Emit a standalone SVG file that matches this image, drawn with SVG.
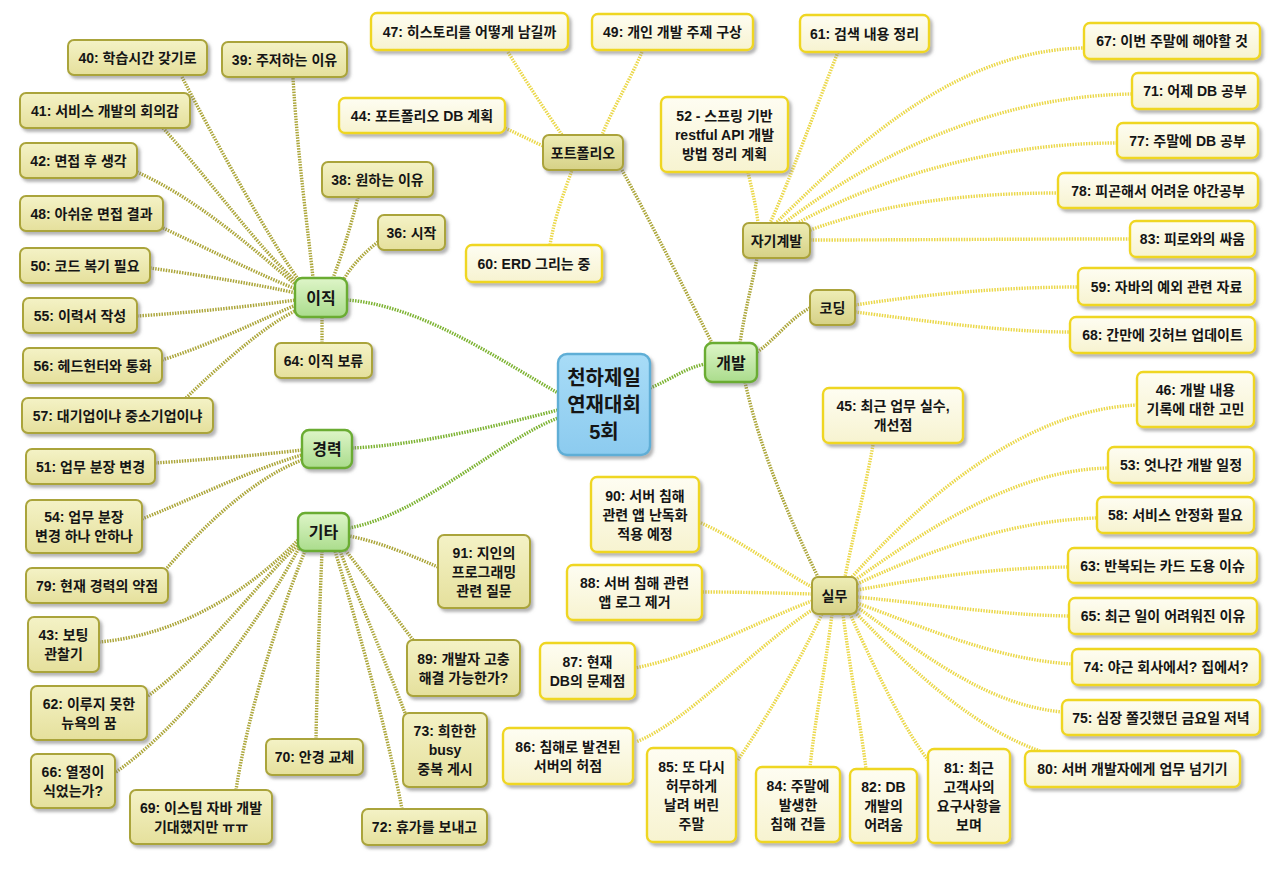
<svg xmlns="http://www.w3.org/2000/svg" width="1280" height="869" viewBox="0 0 1280 869">
<defs>
<linearGradient id="gLO" x1="0" y1="0" x2="0" y2="1"><stop offset="0" stop-color="#f4f2c6"/><stop offset="1" stop-color="#e5e09c"/></linearGradient>
<linearGradient id="gLY" x1="0" y1="0" x2="0" y2="1"><stop offset="0" stop-color="#fefdf2"/><stop offset="1" stop-color="#f7f3d0"/></linearGradient>
<linearGradient id="gSub" x1="0" y1="0" x2="0" y2="1"><stop offset="0" stop-color="#eeedb6"/><stop offset="1" stop-color="#d6d186"/></linearGradient>
<linearGradient id="gGr" x1="0" y1="0" x2="0" y2="1"><stop offset="0" stop-color="#def5c8"/><stop offset="1" stop-color="#aadc8c"/></linearGradient>
<linearGradient id="gC" x1="0" y1="0" x2="0" y2="1"><stop offset="0" stop-color="#a8dcf7"/><stop offset="1" stop-color="#8ccbef"/></linearGradient>
<filter id="sh" x="-20%" y="-20%" width="140%" height="150%"><feDropShadow dx="2.5" dy="3" stdDeviation="1.8" flood-color="#777" flood-opacity="0.55"/></filter>
</defs>
<style>
#connectors path{fill:none;stroke-width:3.4;stroke-dasharray:1.5 1.2}
.cg{stroke:#7db332}.co{stroke:#aca63a}.cy{stroke:#ebd84a}
rect{stroke-width:2;filter:url(#sh)}
.lo rect{fill:url(#gLO);stroke:#aaa43a}
.ly rect{fill:url(#gLY);stroke:#efd622;stroke-width:2.4}
.sb rect{fill:url(#gSub);stroke:#aba33a}
.gr rect{fill:url(#gGr);stroke:#6aac32;stroke-width:2.4}
.ct rect{fill:url(#gC);stroke:#5eaed6;stroke-width:2.4}
text{font-family:"Liberation Sans","Noto Sans CJK KR",sans-serif;font-weight:bold;font-size:14px;text-anchor:middle;fill:#151515}
.gr text{font-size:16px}
.ct text{font-size:20px}
</style>
<rect x="0" y="0" width="1280" height="869" fill="#ffffff" style="filter:none;stroke:none"/>
<g id="connectors">
<path class="cg" d="M347,300 C420,305 500,360 558,393"/>
<path class="cg" d="M352,448 C420,445 500,425 558,410"/>
<path class="cg" d="M349,528 C420,515 500,440 558,418"/>
<path class="cg" d="M650,388 C670,380 685,368 705,364"/>
<path class="co" d="M622,170 C655,230 690,300 712,343"/>
<path class="co" d="M740,343 C745,310 752,285 757,258"/>
<path class="co" d="M757,352 C775,340 790,318 810,308"/>
<path class="co" d="M745,382 C760,450 790,520 818,577"/>
<path class="co" d="M182,77 C220,150 270,240 298,279"/>
<path class="co" d="M293,78 C298,160 308,230 313,278"/>
<path class="co" d="M163,128 C210,180 260,250 297,282"/>
<path class="co" d="M137,172 C200,200 260,255 296,285"/>
<path class="co" d="M163,228 C210,250 260,275 296,289"/>
<path class="co" d="M150,268 C200,275 260,285 296,293"/>
<path class="co" d="M137,316 C200,312 260,305 296,300"/>
<path class="co" d="M162,360 C210,345 260,320 296,305"/>
<path class="co" d="M186,398 C220,365 265,325 297,310"/>
<path class="co" d="M358,197 C350,230 340,260 333,278"/>
<path class="co" d="M378,242 C365,252 352,265 344,279"/>
<path class="co" d="M322,343 L322,317"/>
<path class="co" d="M155,463 C200,460 260,455 302,450"/>
<path class="co" d="M142,519 C190,500 250,470 302,455"/>
<path class="co" d="M167,568 C200,530 250,480 302,460"/>
<path class="co" d="M99,642 C180,635 250,590 298,540"/>
<path class="co" d="M148,696 C210,650 260,580 298,545"/>
<path class="co" d="M116,772 C190,720 260,620 299,548"/>
<path class="co" d="M236,790 C250,700 285,600 305,551"/>
<path class="co" d="M316,739 C317,680 320,600 322,551"/>
<path class="co" d="M402,809 C385,720 350,600 335,551"/>
<path class="co" d="M405,713 C385,660 355,590 340,551"/>
<path class="co" d="M413,640 C390,610 365,575 346,551"/>
<path class="co" d="M438,567 C410,555 380,542 349,536"/>
<path class="cy" d="M508,52 C525,80 545,110 562,135"/>
<path class="cy" d="M642,52 C630,80 612,110 602,135"/>
<path class="cy" d="M505,128 C520,135 530,140 543,146"/>
<path class="cy" d="M550,245 C555,215 565,190 572,170"/>
<path class="cy" d="M748,172 C752,190 756,205 758,223"/>
<path class="cy" d="M838,52 C815,110 790,180 770,223"/>
<path class="cy" d="M775,224 C860,140 960,50 1084,48"/>
<path class="cy" d="M780,226 C880,150 1000,96 1132,94"/>
<path class="cy" d="M785,230 C880,175 1000,143 1117,143"/>
<path class="cy" d="M795,236 C870,205 960,193 1058,193"/>
<path class="cy" d="M810,240 C900,240 1000,239 1130,239"/>
<path class="cy" d="M855,305 C920,295 1000,287 1078,287"/>
<path class="cy" d="M855,312 C920,320 1000,332 1070,332"/>
<path class="cy" d="M873,445 C865,490 852,540 845,577"/>
<path class="cy" d="M852,577 C930,490 1030,410 1137,405"/>
<path class="cy" d="M855,580 C940,520 1020,470 1108,468"/>
<path class="cy" d="M857,584 C940,545 1020,520 1097,518"/>
<path class="cy" d="M857,590 C940,575 1000,568 1068,567"/>
<path class="cy" d="M857,597 C940,605 1000,615 1069,616"/>
<path class="cy" d="M857,603 C930,630 1000,660 1072,664"/>
<path class="cy" d="M857,607 C930,660 990,705 1062,712"/>
<path class="cy" d="M855,612 C920,680 980,730 1040,751"/>
<path class="cy" d="M850,614 C880,680 905,730 928,760"/>
<path class="cy" d="M843,614 C850,670 860,720 866,769"/>
<path class="cy" d="M832,614 C825,670 815,720 810,767"/>
<path class="cy" d="M822,614 C795,670 765,720 738,760"/>
<path class="cy" d="M815,608 C750,650 690,720 636,742"/>
<path class="cy" d="M812,601 C760,620 700,655 635,668"/>
<path class="cy" d="M812,594 C780,593 740,592 702,592"/>
<path class="cy" d="M812,587 C780,570 740,540 699,522"/>
</g>
<g id="center" class="ct"><rect x="558" y="354" width="92" height="101" rx="9"/><text x="604" y="385">천하제일</text><text x="604" y="412">연재대회</text><text x="604" y="439">5회</text></g>
<g id="b-ijik" class="gr"><rect x="295" y="278" width="52" height="39" rx="7"/><text x="321" y="303.5">이직</text></g>
<g id="b-career" class="gr"><rect x="302" y="430" width="50" height="38" rx="7"/><text x="327" y="455">경력</text></g>
<g id="b-etc" class="gr"><rect x="298" y="513" width="51" height="38" rx="7"/><text x="323.5" y="538">기타</text></g>
<g id="b-dev" class="gr"><rect x="705" y="343" width="52" height="39" rx="7"/><text x="731" y="368.5">개발</text></g>
<g id="s-portfolio" class="sb"><rect x="543" y="135" width="80" height="35" rx="6"/><text x="583" y="157.5">포트폴리오</text></g>
<g id="s-self" class="sb"><rect x="743" y="223" width="67" height="35" rx="6"/><text x="776.5" y="245.5">자기계발</text></g>
<g id="s-coding" class="sb"><rect x="810" y="290" width="45" height="35" rx="6"/><text x="832.5" y="312.5">코딩</text></g>
<g id="s-work" class="sb"><rect x="812" y="577" width="45" height="37" rx="6"/><text x="834.5" y="600.5">실무</text></g>
<g id="n40" class="lo"><rect x="68" y="40" width="139" height="35" rx="6"/><text x="137.5" y="62.5">40: 학습시간 갖기로</text></g>
<g id="n39" class="lo"><rect x="222" y="42" width="125" height="35" rx="6"/><text x="284.5" y="64.5">39: 주저하는 이유</text></g>
<g id="n41" class="lo"><rect x="20" y="93" width="170" height="35" rx="6"/><text x="105" y="115.5">41: 서비스 개발의 회의감</text></g>
<g id="n42" class="lo"><rect x="20" y="143" width="117" height="35" rx="6"/><text x="78.5" y="165.5">42: 면접 후 생각</text></g>
<g id="n48" class="lo"><rect x="20" y="196" width="143" height="35" rx="6"/><text x="91.5" y="218.5">48: 아쉬운 면접 결과</text></g>
<g id="n50" class="lo"><rect x="20" y="248" width="130" height="35" rx="6"/><text x="85" y="270.5">50: 코드 복기 필요</text></g>
<g id="n55" class="lo"><rect x="23" y="298" width="114" height="35" rx="6"/><text x="80" y="320.5">55: 이력서 작성</text></g>
<g id="n56" class="lo"><rect x="23" y="348" width="139" height="35" rx="6"/><text x="92.5" y="370.5">56: 헤드헌터와 통화</text></g>
<g id="n57" class="lo"><rect x="22" y="398" width="191" height="35" rx="6"/><text x="117.5" y="420.5">57: 대기업이냐 중소기업이냐</text></g>
<g id="n38" class="lo"><rect x="322" y="162" width="111" height="35" rx="6"/><text x="377.5" y="184.5">38: 원하는 이유</text></g>
<g id="n36" class="lo"><rect x="378" y="215" width="67" height="35" rx="6"/><text x="411.5" y="237.5">36: 시작</text></g>
<g id="n64" class="lo"><rect x="275" y="343" width="97" height="35" rx="6"/><text x="323.5" y="365.5">64: 이직 보류</text></g>
<g id="n51" class="lo"><rect x="26" y="449" width="129" height="35" rx="6"/><text x="90.5" y="471.5">51: 업무 분장 변경</text></g>
<g id="n54" class="lo"><rect x="26" y="500" width="116" height="53" rx="6"/><text x="84" y="522">54: 업무 분장</text><text x="84" y="541">변경 하나 안하나</text></g>
<g id="n79" class="lo"><rect x="26" y="568" width="142" height="35" rx="6"/><text x="97" y="590.5">79: 현재 경력의 약점</text></g>
<g id="n43" class="lo"><rect x="28" y="617" width="71" height="55" rx="6"/><text x="63.5" y="640">43: 보팅</text><text x="63.5" y="659">관찰기</text></g>
<g id="n62" class="lo"><rect x="31" y="686" width="116" height="54" rx="6"/><text x="89" y="708.5">62: 이루지 못한</text><text x="89" y="727.5">뉴욕의 꿈</text></g>
<g id="n66" class="lo"><rect x="31" y="754" width="84" height="54" rx="6"/><text x="73" y="776.5">66: 열정이</text><text x="73" y="795.5">식었는가?</text></g>
<g id="n69" class="lo"><rect x="130" y="790" width="142" height="54" rx="6"/><text x="201" y="812.5">69: 이스팀 자바 개발</text><text x="201" y="831.5">기대했지만 ㅠㅠ</text></g>
<g id="n70" class="lo"><rect x="266" y="739" width="97" height="36" rx="6"/><text x="314.5" y="762">70: 안경 교체</text></g>
<g id="n72" class="lo"><rect x="362" y="809" width="125" height="36" rx="6"/><text x="424.5" y="832">72: 휴가를 보내고</text></g>
<g id="n73" class="lo"><rect x="403" y="713" width="84" height="74" rx="6"/><text x="445" y="736">73: 희한한</text><text x="445" y="755">busy</text><text x="445" y="774">중복 게시</text></g>
<g id="n89" class="lo"><rect x="407" y="640" width="113" height="56" rx="6"/><text x="463.5" y="663.5">89: 개발자 고충</text><text x="463.5" y="682.5">해결 가능한가?</text></g>
<g id="n91" class="lo"><rect x="438" y="535" width="92" height="73" rx="6"/><text x="484" y="557.5">91: 지인의</text><text x="484" y="576.5">프로그래밍</text><text x="484" y="595.5">관련 질문</text></g>
<g id="n47" class="ly"><rect x="371" y="13" width="197" height="37" rx="6"/><text x="469.5" y="36.5">47: 히스토리를 어떻게 남길까</text></g>
<g id="n49" class="ly"><rect x="592" y="14" width="161" height="36" rx="6"/><text x="672.5" y="37">49: 개인 개발 주제 구상</text></g>
<g id="n44" class="ly"><rect x="339" y="98" width="166" height="35" rx="6"/><text x="422" y="120.5">44: 포트폴리오 DB 계획</text></g>
<g id="n60" class="ly"><rect x="466" y="245" width="136" height="37" rx="6"/><text x="534" y="268.5">60: ERD 그리는 중</text></g>
<g id="n52" class="ly"><rect x="661" y="97" width="127" height="75" rx="6"/><text x="724.5" y="120.5">52 - 스프링 기반</text><text x="724.5" y="139.5">restful API 개발</text><text x="724.5" y="158.5">방법 정리 계획</text></g>
<g id="n61" class="ly"><rect x="800" y="15" width="129" height="37" rx="6"/><text x="864.5" y="38.5">61: 검색 내용 정리</text></g>
<g id="n67" class="ly"><rect x="1084" y="23" width="176" height="36" rx="6"/><text x="1172" y="46">67: 이번 주말에 해야할 것</text></g>
<g id="n71" class="ly"><rect x="1132" y="73" width="126" height="36" rx="6"/><text x="1195" y="96">71: 어제 DB 공부</text></g>
<g id="n77" class="ly"><rect x="1117" y="123" width="141" height="35" rx="6"/><text x="1187.5" y="145.5">77: 주말에 DB 공부</text></g>
<g id="n78" class="ly"><rect x="1058" y="173" width="200" height="35" rx="6"/><text x="1158" y="195.5">78: 피곤해서 어려운 야간공부</text></g>
<g id="n83" class="ly"><rect x="1130" y="221" width="125" height="36" rx="6"/><text x="1192.5" y="244">83: 피로와의 싸움</text></g>
<g id="n59" class="ly"><rect x="1078" y="268" width="177" height="37" rx="6"/><text x="1166.5" y="291.5">59: 자바의 예외 관련 자료</text></g>
<g id="n68" class="ly"><rect x="1070" y="317" width="185" height="36" rx="6"/><text x="1162.5" y="340">68: 간만에 깃허브 업데이트</text></g>
<g id="n45" class="ly"><rect x="823" y="388" width="140" height="55" rx="6"/><text x="893" y="411">45: 최근 업무 실수,</text><text x="893" y="430">개선점</text></g>
<g id="n46" class="ly"><rect x="1137" y="372" width="117" height="55" rx="6"/><text x="1195.5" y="395">46: 개발 내용</text><text x="1195.5" y="414">기록에 대한 고민</text></g>
<g id="n53" class="ly"><rect x="1108" y="447" width="146" height="36" rx="6"/><text x="1181" y="470">53: 엇나간 개발 일정</text></g>
<g id="n58" class="ly"><rect x="1097" y="497" width="157" height="36" rx="6"/><text x="1175.5" y="520">58: 서비스 안정화 필요</text></g>
<g id="n63" class="ly"><rect x="1068" y="548" width="189" height="35" rx="6"/><text x="1162.5" y="570.5">63: 반복되는 카드 도용 이슈</text></g>
<g id="n65" class="ly"><rect x="1069" y="598" width="188" height="36" rx="6"/><text x="1163" y="621">65: 최근 일이 어려워진 이유</text></g>
<g id="n74" class="ly"><rect x="1072" y="649" width="188" height="36" rx="6"/><text x="1166" y="672">74: 야근 회사에서? 집에서?</text></g>
<g id="n75" class="ly"><rect x="1062" y="700" width="198" height="35" rx="6"/><text x="1161" y="722.5">75: 심장 쫄깃했던 금요일 저녁</text></g>
<g id="n80" class="ly"><rect x="1025" y="751" width="215" height="36" rx="6"/><text x="1132.5" y="774">80: 서버 개발자에게 업무 넘기기</text></g>
<g id="n90" class="ly"><rect x="591" y="477" width="108" height="75" rx="6"/><text x="645" y="500.5">90: 서버 침해</text><text x="645" y="519.5">관련 앱 난독화</text><text x="645" y="538.5">적용 예정</text></g>
<g id="n88" class="ly"><rect x="567" y="565" width="135" height="55" rx="6"/><text x="634.5" y="588">88: 서버 침해 관련</text><text x="634.5" y="607">앱 로그 제거</text></g>
<g id="n87" class="ly"><rect x="540" y="643" width="95" height="56" rx="6"/><text x="587.5" y="666.5">87: 현재</text><text x="587.5" y="685.5">DB의 문제점</text></g>
<g id="n86" class="ly"><rect x="503" y="728" width="130" height="56" rx="6"/><text x="568" y="751.5">86: 침해로 발견된</text><text x="568" y="770.5">서버의 허점</text></g>
<g id="n85" class="ly"><rect x="647" y="748" width="89" height="94" rx="6"/><text x="691.5" y="771.5">85: 또 다시</text><text x="691.5" y="790.5">허무하게</text><text x="691.5" y="809.5">날려 버린</text><text x="691.5" y="828.5">주말</text></g>
<g id="n84" class="ly"><rect x="756" y="767" width="84" height="75" rx="6"/><text x="798" y="790.5">84: 주말에</text><text x="798" y="809.5">발생한</text><text x="798" y="828.5">침해 건들</text></g>
<g id="n82" class="ly"><rect x="850" y="769" width="67" height="74" rx="6"/><text x="883.5" y="792">82: DB</text><text x="883.5" y="811">개발의</text><text x="883.5" y="830">어려움</text></g>
<g id="n81" class="ly"><rect x="928" y="749" width="82" height="94" rx="6"/><text x="969" y="772.5">81: 최근</text><text x="969" y="791.5">고객사의</text><text x="969" y="810.5">요구사항을</text><text x="969" y="829.5">보며</text></g>
</svg>
